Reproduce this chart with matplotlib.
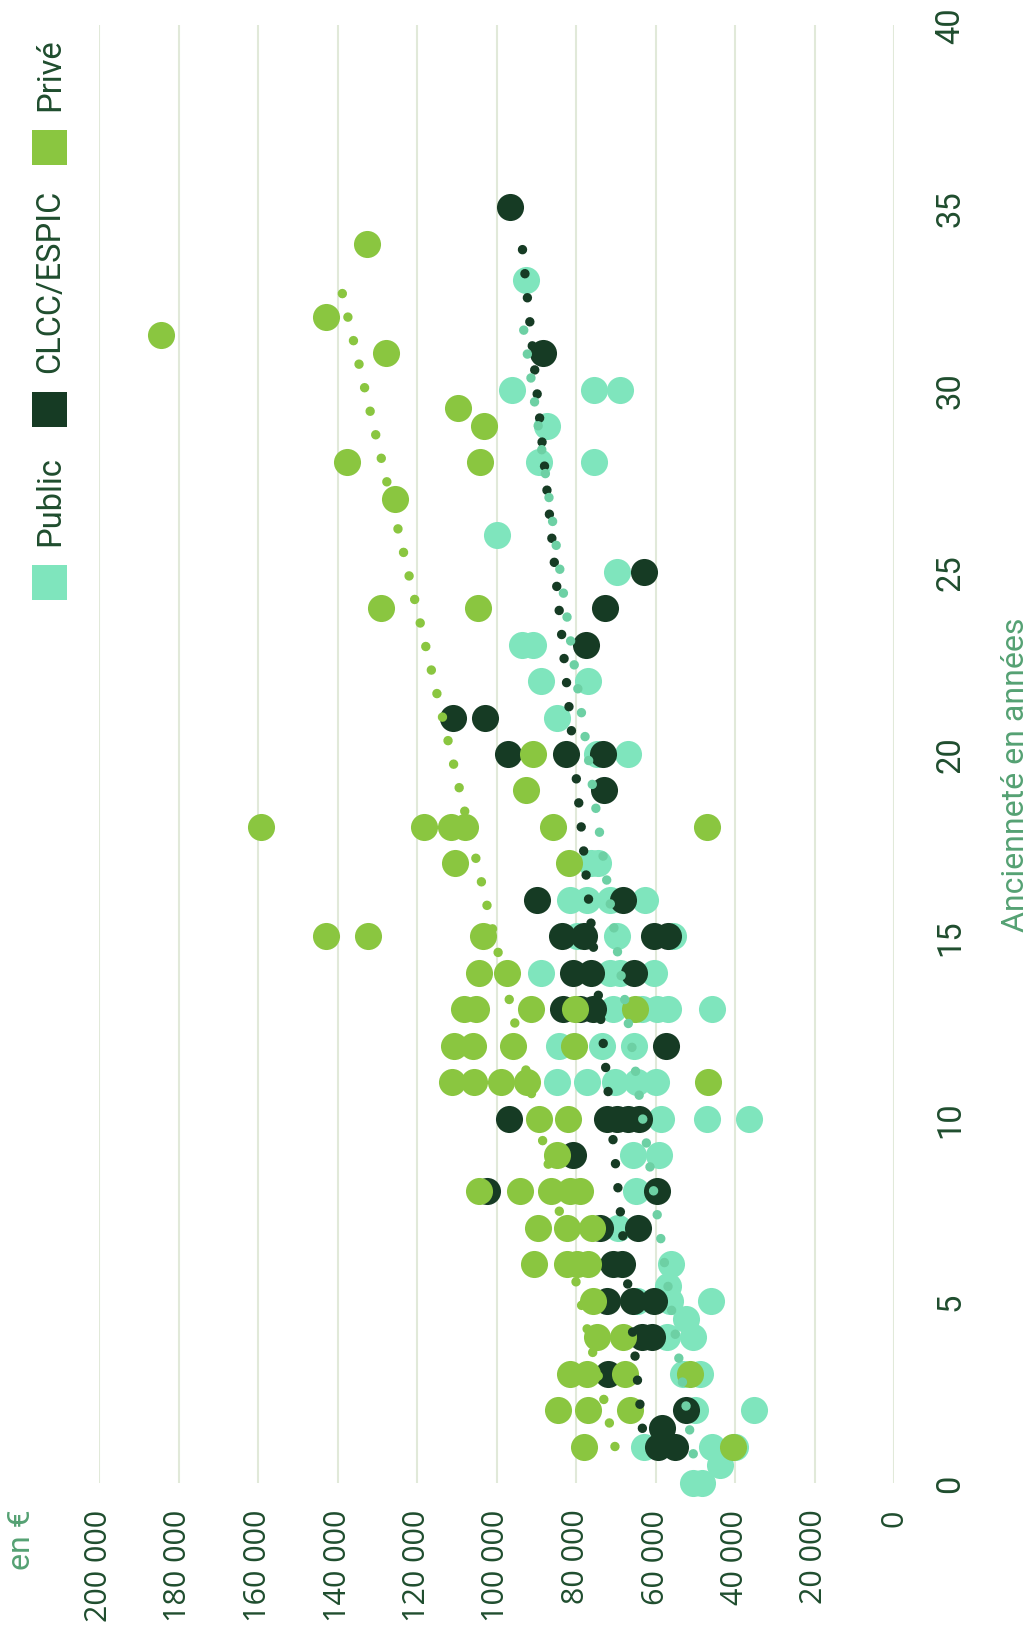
import matplotlib
matplotlib.use("Agg")
import matplotlib.pyplot as plt
from matplotlib.patches import Rectangle

plt.rcParams['font.family'] = ['Roboto', 'DejaVu Sans']

# ---------------- data (seniority in years, salary in €) ----------------
public_seniority = [0, 0, 0.5, 1, 1, 1, 2, 2, 3, 3, 4, 4, 4.5, 5, 5, 5, 5.4, 6, 7, 8, 9, 9,
                    10, 10, 10, 11, 11, 11, 11, 11, 12, 12, 12, 13, 13, 13, 13, 13,
                    14, 14, 14, 14, 15, 15, 15, 16, 16, 16, 16, 17, 17, 20, 20, 21, 22, 22,
                    23, 23, 25, 26, 28, 28, 29, 30, 30, 30, 33]
public_salary = [50500, 48400, 43800, 63000, 45900, 40000, 50000, 35200, 53000, 48800, 57200, 50500,
                 52300, 64700, 56300, 46000, 56800, 56100, 69500, 64900, 65700, 59000,
                 58600, 47100, 36400, 84900, 77300, 70200, 64700, 59900, 84400, 73500, 65400,
                 70600, 63500, 59700, 56800, 45900, 88800, 71400, 68900, 60400, 79800, 69600, 55500,
                 81500, 77300, 71400, 62600, 76200, 74400, 74800, 67000, 84900, 88700, 76900,
                 93500, 90900, 69700, 100000, 89300, 75500, 87200, 96200, 75500, 68900, 92500]

clcc_seniority = [1, 1, 1.5, 2, 3, 4, 4, 5, 5, 5, 6, 6, 7, 7, 8, 8, 9, 10, 10, 10, 10, 10,
                  12, 13, 13, 13, 14, 14, 14, 15, 15, 15, 15, 16, 16, 19, 20, 20, 20, 21, 21,
                  23, 24, 25, 31, 35]
clcc_salary = [59300, 55100, 58400, 52400, 71900, 63500, 61000, 72300, 65700, 60500, 70600, 68500,
               74000, 64300, 102300, 59700, 80700, 96800, 72300, 69800, 67000, 64200,
               57400, 83200, 79000, 75800, 80800, 76300, 65400, 83600, 78100, 60500, 56800,
               89900, 68100, 73000, 97100, 82500, 73100, 110900, 102800,
               77400, 72700, 62900, 88400, 96600]

prive_seniority = [1, 1, 2, 2, 2, 3, 3, 3, 3, 4, 4, 5, 6, 6, 6, 6, 7, 7, 7, 8, 8, 8, 8, 8, 9,
                   10, 10, 11, 11, 11, 11, 11, 12, 12, 12, 12, 13, 13, 13, 13, 13, 14, 14,
                   15, 15, 15, 17, 17, 18, 18, 18, 18, 18, 18, 19, 20, 24, 24, 27, 28, 28,
                   29, 29.5, 31, 31.5, 32, 34]
prive_salary = [78100, 40400, 84600, 77100, 66400, 81500, 77300, 67700, 51300, 74800, 68200, 75600,
                90600, 82300, 79800, 76900, 89600, 82300, 76000, 104300, 94100, 86300, 81500, 79000,
                84900, 89200, 81900, 111300, 105600, 98900, 92400, 46700, 110800, 105800, 95900,
                80400, 108300, 105200, 91400, 80200, 65100, 104300, 97400,
                142900, 132300, 103400, 110500, 81700, 159200, 118200, 111400, 108000, 85800,
                47000, 92500, 90800, 129100, 104600, 125500, 137700, 104200,
                103100, 109800, 127900, 184300, 142900, 132500]

# trend lines: (start seniority, end seniority), (start salary, end salary)
public_trend_seniority = [0.8, 32.1]
public_trend_salary = [50500, 93800]
clcc_trend_seniority = [1.5, 34.2]
clcc_trend_salary = [63300, 93800]
prive_trend_seniority = [1.0, 33.1]
prive_trend_salary = [70200, 139800]

salary_ticks = list(range(0, 200001, 20000))
seniority_ticks = list(range(0, 41, 5))
legend_labels = ["Public", "CLCC/ESPIC", "Privé"]

# ---------------- style ----------------
C_PUBLIC = "#7fe5bd"
C_PUBLIC_TREND = "#6dd0a4"
C_CLCC = "#163b24"
C_PRIVE = "#8ac640"
C_TEXT = "#1f4d2e"
C_TITLE = "#55a173"
C_GRID = "#e1e9d9"

W, H = 1032, 1640
fig = plt.figure(figsize=(W / 100, H / 100), dpi=100)
ax = fig.add_axes([99 / W, 1 - 1484 / H, (894 - 99) / W, (1484 - 26) / H])

ax.set_xlim(200000, 0)
ax.set_ylim(0, 40)
for sp in ax.spines.values():
    sp.set_visible(False)

ax.set_xticks(salary_ticks)
ax.set_xticklabels([f"{v:,}".replace(",", " ") for v in salary_ticks])
ax.set_yticks(seniority_ticks)
ax.yaxis.tick_right()
ax.tick_params(axis='x', length=0, pad=18.5, labelrotation=90, labelsize=22, labelcolor=C_TEXT)
ax.tick_params(axis='y', length=0, pad=29, labelrotation=90, labelsize=23.5, labelcolor=C_TEXT)
for lab in ax.get_xticklabels():
    lab.set_fontfamily(['Open Sans', 'DejaVu Sans'])
for lab in ax.get_yticklabels():
    lab.set_va('center')
ax.grid(axis='x', color=C_GRID, lw=1.5)
ax.grid(axis='y', visible=False)
ax.set_axisbelow(True)

S = 380
ax.scatter(public_salary, public_seniority, s=S, color=C_PUBLIC, lw=0, zorder=2, clip_on=False)
ax.scatter(clcc_salary, clcc_seniority, s=S, color=C_CLCC, lw=0, zorder=3, clip_on=False)
ax.scatter(prive_salary, prive_seniority, s=S, color=C_PRIVE, lw=0, zorder=4, clip_on=False)

dot_style = dict(lw=6.8, ls=(0, (0.01, 2.55)), dash_capstyle='round', solid_capstyle='round')
ax.plot(clcc_trend_salary, clcc_trend_seniority, color=C_CLCC, zorder=5, **dot_style)
ax.plot(public_trend_salary, public_trend_seniority, color=C_PUBLIC_TREND, zorder=5, **dot_style)
ax.plot(prive_trend_salary, prive_trend_seniority, color=C_PRIVE, zorder=5, **dot_style)

# axis titles
fig.text(1016 / W, 1 - 775 / H, "Ancienneté en années", rotation=90, ha='center', va='center',
         color=C_TITLE, fontsize=23)
fig.text(21 / W, 1 - 1540 / H, "en €", rotation=90, ha='center', va='center',
         color=C_TITLE, fontsize=23)

# legend (rotated)
legend_colors = [C_PUBLIC, C_CLCC, C_PRIVE]
square_tops = [566, 393, 131]
for lab, col, top in zip(legend_labels, legend_colors, square_tops):
    fig.add_artist(Rectangle((32 / W, 1 - (top + 35) / H), 35 / W, 35 / H,
                             transform=fig.transFigure, color=col, lw=0))
    fig.text(50 / W, 1 - (top - 20) / H, lab, rotation=90, ha='center', va='bottom',
             color=C_TEXT, fontsize=23.5)

fig.savefig("out.png", dpi=100, facecolor="white")
